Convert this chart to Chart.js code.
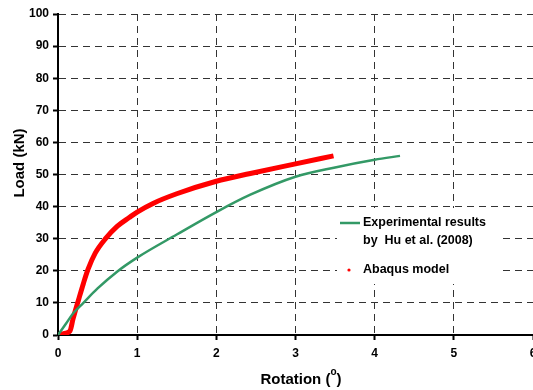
<!DOCTYPE html>
<html>
<head>
<meta charset="utf-8">
<script src="https://cdn.jsdelivr.net/npm/chart.js@4.4.1/dist/chart.umd.min.js"></script>
<style>
  html, body { margin: 0; padding: 0; background: #fff; }
  #wrap { width: 533px; height: 390px; position: relative; }
</style>
</head>
<body>
<div id="wrap"><canvas id="chart"></canvas></div>
<script>
// Abaqus model (red)
const abaqusRot  = [0, 0.08, 0.15, 0.19, 0.26, 0.32, 0.38, 0.47, 0.6, 0.75, 0.9, 1.0, 1.2, 1.5, 2.0, 2.43, 3.0, 3.48];
const abaqusLoad = [0, 0.5, 1.2, 5, 11, 16, 20.5, 25.5, 30, 33.9, 36.6, 38.3, 41, 44, 47.9, 50.3, 53.3, 55.8];

// Experimental results by Hu et al. (2008) (green)
const expRot  = [0, 0.1, 0.2, 0.3, 0.5, 0.75, 1.0, 1.5, 2.0, 2.43, 3.0, 3.5, 4.0, 4.32];
const expLoad = [0, 3.5, 7, 9.5, 14.5, 19.8, 24.1, 31.3, 38.3, 43.7, 49.3, 52.2, 54.6, 55.8];

const xTicks = [0, 1, 2, 3, 4, 5, 6];
const yTicks = [0, 10, 20, 30, 40, 50, 60, 70, 80, 90, 100];

const toPoints = (xs, ys) => xs.map((x, i) => ({ x: x, y: ys[i] }));

const FONT = "'Liberation Sans', Arial, sans-serif";

// legend and axis titles drawn by hand
const extrasPlugin = {
  id: "extras",
  beforeDatasetsDraw(chart) {
    // white legend box hides the grid behind it
    const ctx = chart.ctx;
    ctx.save();
    ctx.fillStyle = "#fff";
    ctx.fillRect(337, 208, 161, 76);
    ctx.restore();
  },
  afterDraw(chart) {
    const ctx = chart.ctx;
    ctx.save();
    // legend
    ctx.strokeStyle = "#339966";
    ctx.lineWidth = 2.5;
    ctx.beginPath();
    ctx.moveTo(340, 223);
    ctx.lineTo(360, 223);
    ctx.stroke();
    ctx.fillStyle = "#ff0000";
    ctx.beginPath();
    ctx.arc(349, 270, 1.6, 0, Math.PI * 2);
    ctx.fill();
    ctx.fillStyle = "#000";
    ctx.font = "bold 12.5px " + FONT;
    ctx.textBaseline = "middle";
    ctx.textAlign = "left";
    ctx.fillText("Experimental results", 363, 223);
    ctx.fillText("by  Hu et al. (2008)", 363, 241);
    ctx.fillText("Abaqus model", 363, 270);

    // x title with superscript o
    ctx.font = "bold 15px " + FONT;
    ctx.textBaseline = "alphabetic";
    const a = "Rotation (";
    const wa = ctx.measureText(a).width;
    ctx.font = "bold 10px " + FONT;
    const wo = ctx.measureText("o").width;
    ctx.font = "bold 15px " + FONT;
    const wc = ctx.measureText(")").width;
    let x0 = 301 - (wa + wo + wc) / 2;
    ctx.fillText(a, x0, 384);
    ctx.font = "bold 10px " + FONT;
    ctx.fillText("o", x0 + wa, 375);
    ctx.font = "bold 15px " + FONT;
    ctx.fillText(")", x0 + wa + wo, 384);

    // y title
    ctx.translate(20, 163);
    ctx.rotate(-Math.PI / 2);
    ctx.textAlign = "center";
    ctx.textBaseline = "middle";
    ctx.font = "bold 15px " + FONT;
    ctx.fillText("Load (kN)", 0, 0);
    ctx.restore();
  }
};

new Chart(document.getElementById("chart"), {
  type: "scatter",
  data: {
    datasets: [
      {
        label: "Experimental results by Hu et al. (2008)",
        data: toPoints(expRot, expLoad),
        showLine: true,
        borderColor: "#339966",
        borderWidth: 2.5,
        pointRadius: 0,
        cubicInterpolationMode: "monotone"
      },
      {
        label: "Abaqus model",
        data: toPoints(abaqusRot, abaqusLoad),
        showLine: true,
        borderColor: "#ff0000",
        borderWidth: 5,
        pointRadius: 0,
        cubicInterpolationMode: "monotone"
      }
    ]
  },
  options: {
    responsive: true,
    maintainAspectRatio: false,
    animation: false,
    layout: { padding: { top: 14, right: 0, left: 0, bottom: 0 } },
    plugins: {
      legend: { display: false },
      tooltip: { enabled: false }
    },
    scales: {
      x: {
        type: "linear",
        min: 0,
        max: 6,
        afterFit: s => { s.height = 55; s.paddingRight = 0; s.paddingLeft = 0; },
        afterBuildTicks: s => { s.ticks = xTicks.map(v => ({ value: v })); },
        ticks: { color: "#000", font: { family: FONT, size: 12, weight: "bold" }, padding: 6 },
        grid: { color: "#333", lineWidth: 1, tickLength: 5, tickColor: "#000", tickWidth: 2, tickBorderDash: [] },
        border: { display: true, color: "#000", width: 2, dash: [7, 5] }
      },
      y: {
        min: 0,
        max: 100,
        afterFit: s => { s.width = 58; s.paddingTop = 0; s.paddingBottom = 0; },
        afterBuildTicks: s => { s.ticks = yTicks.map(v => ({ value: v })); },
        ticks: { color: "#000", font: { family: FONT, size: 12, weight: "bold" }, padding: 4 },
        grid: { color: "#333", lineWidth: 1, tickLength: 5, tickColor: "#000", tickWidth: 2, tickBorderDash: [] },
        border: { display: true, color: "#000", width: 2, dash: [7, 5] }
      }
    }
  },
  plugins: [extrasPlugin]
});
</script>
</body>
</html>
